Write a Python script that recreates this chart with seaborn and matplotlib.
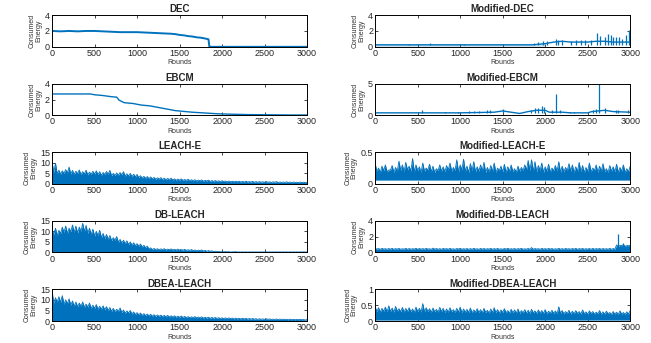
import matplotlib
matplotlib.use("Agg")
import matplotlib.pyplot as plt
import seaborn as sns

# ---- values (rounds 0..3000) ----
# smooth curves
dec_rounds = [0, 100, 200, 300, 400, 500, 600, 700, 800, 900, 1000, 1100, 1200, 1300,
              1400, 1450, 1500, 1550, 1600, 1650, 1700, 1750, 1800, 1840, 1850, 1860, 3000]
dec_energy = [2.0, 1.95, 2.0, 1.95, 2.0, 2.0, 1.95, 1.9, 1.85, 1.85, 1.85, 1.8, 1.75, 1.7,
              1.65, 1.6, 1.5, 1.45, 1.35, 1.3, 1.2, 1.15, 1.05, 0.95, 0.05, 0.0, 0.0]

ebcm_rounds = [0, 200, 450, 500, 600, 700, 760, 790, 850, 950, 1050, 1150, 1250, 1350, 1450,
               1550, 1650, 1800, 1950, 2100, 2300, 2500, 2800, 3000]
ebcm_energy = [2.7, 2.7, 2.7, 2.6, 2.5, 2.35, 2.3, 1.9, 1.6, 1.5, 1.3, 1.2, 1.0, 0.8, 0.6,
               0.5, 0.4, 0.3, 0.2, 0.15, 0.1, 0.08, 0.05, 0.05]

# baselines + spikes of the modified DEC / EBCM curves
moddec_rounds = [0, 500, 1000, 1500, 1850, 1900, 2000, 2100, 2200, 2300, 2400, 2500,
                 2600, 2700, 2800, 2900, 3000]
moddec_energy = [0.25, 0.25, 0.25, 0.25, 0.25, 0.3, 0.4, 0.6, 0.7, 0.6, 0.6, 0.6,
                 0.7, 0.7, 0.6, 0.6, 0.6]
moddec_band_rounds = [0, 2000]
moddec_band_top = [0.3, 0.3]
moddec_spike_rounds = [400, 640, 1040, 1870, 1920, 1980, 2020, 2130, 2150, 2200, 2300, 2360,
                       2420, 2470, 2540, 2610, 2640, 2700, 2740, 2770, 2800, 2830, 2870,
                       2900, 2950, 2990]
moddec_spike_energy = [0.4, 0.5, 0.4, 0.5, 0.6, 0.7, 0.7, 1.0, 0.9, 0.9, 0.7, 0.9,
                       0.8, 0.8, 0.8, 1.7, 1.4, 1.3, 1.6, 1.5, 1.2, 1.3, 1.2,
                       1.0, 1.5, 2.1]

modebcm_rounds = [0, 500, 1000, 1400, 1500, 1600, 1700, 1800, 1900, 2000, 2050, 2200, 2300,
                  2500, 2550, 2700, 2800, 3000]
modebcm_energy = [0.4, 0.4, 0.4, 0.5, 0.7, 0.5, 0.3, 0.6, 0.8, 0.8, 0.5, 0.5, 0.4,
                  0.4, 0.6, 0.8, 0.6, 0.5]
modebcm_spike_rounds = [550, 820, 970, 1100, 1160, 1220, 1320, 1350, 1500, 1830, 1880, 1920,
                        1960, 1990, 2080, 2130, 2170, 2290, 2340, 2560, 2600, 2630, 2700,
                        2830, 2860, 2980]
modebcm_spike_energy = [0.8, 0.6, 0.6, 0.7, 0.7, 0.7, 0.8, 0.8, 1.0, 0.9, 1.1, 1.2,
                        1.4, 1.3, 0.9, 3.3, 0.9, 0.6, 0.6, 0.8, 1.0, 5.0, 1.1,
                        0.8, 0.8, 0.8]

# noisy curves: spike tops every 40 rounds (0..3000),
# top of the solid band in between (20..2980), bottom of the band
leache_peaks = [10.2, 9.8, 6.5, 6.2, 6.8, 8.0, 6.4, 6.0, 6.6, 5.8,
                6.5, 5.6, 6.0, 6.2, 5.8, 5.4, 5.9, 6.4, 5.0, 5.2,
                5.4, 5.8, 4.8, 5.0, 4.6, 4.5, 3.9, 3.6, 3.5, 3.3,
                3.1, 2.9, 3.0, 2.7, 2.6, 2.7, 2.4, 2.3, 2.4, 2.1,
                2.2, 2.0, 2.0, 1.8, 1.9, 1.7, 1.8, 1.6, 1.6, 1.5,
                1.5, 1.4, 1.4, 1.3, 1.3, 1.3, 1.2, 1.3, 1.1, 1.2,
                1.1, 1.1, 1.0, 1.1, 1.0, 1.0, 1.1, 0.9, 0.9, 1.0,
                0.9, 0.9, 0.8, 0.9, 0.8, 0.8]
leache_band = [5.5, 4.8, 4.6, 5.0, 5.2, 4.7, 4.5, 4.9, 4.4, 4.8,
               4.3, 4.6, 4.7, 4.4, 4.1, 4.5, 4.6, 3.9, 4.0, 4.1,
               4.3, 3.7, 3.8, 3.5, 3.4, 3.0, 2.8, 2.7, 2.5, 2.4,
               2.2, 2.3, 2.1, 2.0, 2.1, 1.9, 1.8, 1.8, 1.7, 1.7,
               1.6, 1.5, 1.4, 1.5, 1.3, 1.4, 1.2, 1.2, 1.2, 1.1,
               1.1, 1.0, 1.0, 1.0, 1.0, 0.9, 0.9, 0.9, 0.9, 0.8,
               0.8, 0.8, 0.8, 0.8, 0.7, 0.8, 0.7, 0.7, 0.7, 0.7,
               0.6, 0.7, 0.6, 0.6, 0.6]
leache_floor = 0.0

modleache_peaks = [0.32, 0.25, 0.28, 0.30, 0.22, 0.29, 0.26, 0.36, 0.30, 0.34,
                   0.28, 0.40, 0.30, 0.27, 0.33, 0.25, 0.31, 0.28, 0.24, 0.30,
                   0.27, 0.29, 0.33, 0.26, 0.38, 0.30, 0.39, 0.28, 0.32, 0.35,
                   0.27, 0.30, 0.34, 0.26, 0.29, 0.33, 0.25, 0.28, 0.31, 0.27,
                   0.30, 0.24, 0.28, 0.26, 0.30, 0.37, 0.38, 0.35, 0.29, 0.33,
                   0.27, 0.31, 0.25, 0.29, 0.35, 0.28, 0.26, 0.32, 0.30, 0.27,
                   0.34, 0.29, 0.26, 0.33, 0.25, 0.30, 0.28, 0.32, 0.24, 0.29,
                   0.27, 0.31, 0.26, 0.30, 0.24, 0.28]
modleache_band = [0.20, 0.18, 0.21, 0.19, 0.22, 0.18, 0.20, 0.21, 0.19, 0.22,
                  0.20, 0.19, 0.21, 0.18, 0.20, 0.22, 0.19, 0.18, 0.21, 0.20,
                  0.19, 0.22, 0.20, 0.21, 0.19, 0.22, 0.20, 0.18, 0.21, 0.19,
                  0.20, 0.21, 0.18, 0.19, 0.20, 0.18, 0.21, 0.19, 0.18, 0.20,
                  0.19, 0.18, 0.20, 0.21, 0.22, 0.21, 0.20, 0.19, 0.21, 0.18,
                  0.20, 0.19, 0.21, 0.20, 0.18, 0.19, 0.21, 0.20, 0.18, 0.20,
                  0.19, 0.18, 0.20, 0.19, 0.21, 0.18, 0.20, 0.19, 0.18, 0.20,
                  0.19, 0.18, 0.20, 0.18, 0.19]
modleache_floor = 0.06

dbleach_peaks = [11.0, 11.5, 10.5, 12.0, 12.5, 11.5, 13.0, 12.5, 12.0, 13.8,
                 12.8, 11.5, 11.0, 10.0, 10.5, 9.0, 8.5, 8.0, 7.0, 7.5,
                 6.2, 5.8, 5.5, 5.0, 4.6, 4.2, 4.0, 3.4, 3.0, 2.2,
                 1.9, 1.8, 1.7, 1.8, 1.6, 1.7, 1.5, 1.6, 1.4, 1.5,
                 1.3, 1.4, 1.2, 1.1, 1.2, 1.0, 0.9, 0.8, 0.6, 0.5,
                 0.4, 0.4, 0.4, 0.3, 0.4, 0.3, 0.3, 0.3, 0.3, 0.3,
                 0.3, 0.3, 0.3, 0.3, 0.3, 0.3, 0.3, 0.3, 0.3, 0.3,
                 0.3, 0.3, 0.3, 0.3, 0.3, 0.3]
dbleach_band = [8.5, 8.0, 9.0, 9.5, 9.0, 9.8, 9.5, 9.2, 10.0, 10.0,
                9.0, 8.5, 7.8, 8.0, 7.0, 6.6, 6.2, 5.6, 5.8, 4.8,
                4.5, 4.2, 3.8, 3.5, 3.2, 3.0, 2.6, 2.3, 1.7, 1.4,
                1.4, 1.3, 1.4, 1.2, 1.3, 1.2, 1.2, 1.1, 1.1, 1.0,
                1.0, 0.9, 0.8, 0.9, 0.7, 0.6, 0.6, 0.4, 0.35, 0.3,
                0.3, 0.3, 0.2, 0.3, 0.2, 0.2, 0.2, 0.2, 0.2, 0.2,
                0.2, 0.2, 0.2, 0.2, 0.2, 0.2, 0.2, 0.2, 0.2, 0.2,
                0.2, 0.2, 0.2, 0.2, 0.2]
dbleach_floor = 0.0

moddbleach_peaks = [0.55, 0.50, 0.52, 0.48, 0.50, 0.53, 0.49, 0.51, 0.47, 0.52,
                    0.50, 0.48, 0.53, 0.50, 0.49, 0.52, 0.47, 0.55, 0.50, 0.48,
                    0.51, 0.49, 0.52, 0.47, 0.50, 0.53, 0.48, 0.50, 0.49, 0.52,
                    0.47, 0.51, 0.50, 0.48, 0.52, 0.49, 0.51, 0.47, 0.50, 0.53,
                    0.48, 0.50, 0.49, 0.52, 0.47, 0.51, 0.62, 0.50, 0.48, 0.52,
                    0.49, 0.51, 0.50, 0.47, 0.52, 0.49, 0.51, 0.48, 0.50, 0.52,
                    0.49, 0.51, 0.48, 0.50, 0.52, 0.49, 0.51, 0.50, 0.48, 0.52,
                    0.50, 0.95, 0.90, 1.00, 0.85, 0.90]
moddbleach_band = [0.42, 0.40, 0.43, 0.41, 0.42, 0.40, 0.43, 0.41, 0.42, 0.40,
                   0.41, 0.43, 0.40, 0.42, 0.41, 0.43, 0.40, 0.42, 0.41, 0.40,
                   0.43, 0.41, 0.42, 0.40, 0.43, 0.41, 0.42, 0.40, 0.41, 0.43,
                   0.40, 0.42, 0.41, 0.43, 0.40, 0.42, 0.41, 0.40, 0.43, 0.41,
                   0.42, 0.40, 0.43, 0.41, 0.42, 0.40, 0.41, 0.43, 0.40, 0.42,
                   0.41, 0.43, 0.40, 0.42, 0.41, 0.40, 0.43, 0.41, 0.42, 0.40,
                   0.43, 0.41, 0.42, 0.40, 0.41, 0.43, 0.40, 0.42, 0.41, 0.40,
                   0.42, 0.75, 0.85, 0.80, 0.85]
moddbleach_floor = 0.03
moddbleach_spike_rounds = [2860, 2920, 2960]
moddbleach_spike_energy = [2.3, 1.2, 1.0]

dbealeach_peaks = [14.0, 11.0, 11.5, 12.0, 10.0, 10.5, 9.5, 9.0, 8.5, 9.0,
                   8.0, 8.5, 7.5, 7.8, 7.0, 7.2, 6.8, 6.4, 6.0, 5.6,
                   6.2, 5.2, 4.8, 5.0, 4.3, 4.0, 3.8, 3.5, 3.3, 3.2,
                   3.0, 2.9, 2.8, 2.7, 2.7, 2.5, 2.5, 2.3, 2.4, 2.2,
                   2.1, 2.0, 2.1, 1.9, 2.0, 1.8, 1.8, 1.7, 1.7, 1.6,
                   1.5, 1.5, 1.5, 1.4, 1.4, 1.3, 1.3, 1.3, 1.2, 1.2,
                   1.1, 1.1, 1.0, 1.1, 1.0, 0.9, 1.0, 0.9, 0.9, 0.8,
                   0.9, 0.8, 0.8, 0.8, 0.7, 0.7]
dbealeach_band = [8.5, 9.0, 8.8, 8.0, 8.2, 7.5, 7.0, 6.8, 7.0, 6.4,
                  6.6, 6.0, 6.0, 5.6, 5.6, 5.3, 5.0, 4.6, 4.4, 4.6,
                  4.0, 3.7, 3.8, 3.3, 3.1, 2.9, 2.7, 2.6, 2.5, 2.3,
                  2.2, 2.2, 2.1, 2.0, 1.9, 1.9, 1.8, 1.8, 1.7, 1.6,
                  1.6, 1.6, 1.5, 1.5, 1.4, 1.4, 1.3, 1.3, 1.2, 1.2,
                  1.1, 1.1, 1.1, 1.0, 1.0, 1.0, 1.0, 0.9, 0.9, 0.9,
                  0.8, 0.8, 0.8, 0.8, 0.7, 0.7, 0.7, 0.7, 0.7, 0.6,
                  0.6, 0.6, 0.6, 0.6, 0.5]
dbealeach_floor = 0.0

moddbea_peaks = [0.45, 0.42, 0.40, 0.44, 0.48, 0.41, 0.46, 0.39, 0.43, 0.40,
                 0.42, 0.38, 0.44, 0.40, 0.55, 0.42, 0.39, 0.41, 0.37, 0.43,
                 0.40, 0.38, 0.42, 0.36, 0.40, 0.44, 0.38, 0.37, 0.41, 0.35,
                 0.39, 0.36, 0.40, 0.34, 0.38, 0.42, 0.36, 0.35, 0.39, 0.33,
                 0.37, 0.35, 0.38, 0.33, 0.36, 0.34, 0.37, 0.32, 0.35, 0.33,
                 0.36, 0.31, 0.34, 0.32, 0.45, 0.33, 0.30, 0.34, 0.31, 0.33,
                 0.30, 0.35, 0.29, 0.32, 0.30, 0.28, 0.33, 0.29, 0.31, 0.27,
                 0.30, 0.28, 0.32, 0.27, 0.29, 0.33]
moddbea_band = [0.30, 0.28, 0.31, 0.29, 0.30, 0.28, 0.31, 0.29, 0.28, 0.30,
                0.29, 0.27, 0.30, 0.28, 0.29, 0.30, 0.27, 0.29, 0.28, 0.30,
                0.27, 0.28, 0.29, 0.27, 0.28, 0.26, 0.28, 0.27, 0.26, 0.28,
                0.27, 0.26, 0.27, 0.25, 0.27, 0.26, 0.25, 0.27, 0.26, 0.25,
                0.26, 0.25, 0.24, 0.26, 0.25, 0.24, 0.26, 0.24, 0.25, 0.24,
                0.23, 0.25, 0.24, 0.23, 0.24, 0.23, 0.24, 0.22, 0.23, 0.24,
                0.22, 0.23, 0.22, 0.24, 0.22, 0.23, 0.21, 0.22, 0.23, 0.21,
                0.22, 0.21, 0.22, 0.21, 0.22]
moddbea_floor = 0.03

titles = ["DEC", "Modified-DEC", "EBCM", "Modified-EBCM", "LEACH-E", "Modified-LEACH-E",
          "DB-LEACH", "Modified-DB-LEACH", "DBEA-LEACH", "Modified-DBEA-LEACH"]
y_limits = [4, 4, 4, 5, 15, 0.5, 15, 4, 15, 1]
y_ticks = [[0, 2, 4], [0, 2, 4], [0, 2, 4], [0, 5], [0, 5, 10, 15], [0, 0.5],
           [0, 5, 10, 15], [0, 2, 4], [0, 5, 10, 15], [0, 0.5, 1]]
x_ticks = [0, 500, 1000, 1500, 2000, 2500, 3000]

BLUE = "#0072BD"


def zigzag(peaks, band):
    # alternate spike top / band top: spikes at 0,40,..  band at 20,60,..
    xs, ys = [], []
    for i, p in enumerate(peaks):
        xs.append(i * 40)
        ys.append(p)
        if i < len(band):
            xs.append(i * 40 + 20)
            ys.append(band[i])
    return xs, ys


sns.set_theme(style="white")
plt.rcParams["font.family"] = ["Liberation Sans", "DejaVu Sans"]

fig, axes = plt.subplots(5, 2, figsize=(6.51, 3.43), dpi=100)
fig.subplots_adjust(left=0.08, right=0.968, top=0.956, bottom=0.064, wspace=0.267, hspace=1.16)
axes = axes.flatten()

# smooth ones
sns.lineplot(x=dec_rounds, y=dec_energy, ax=axes[0], color=BLUE, linewidth=1.4, estimator=None)
sns.lineplot(x=ebcm_rounds, y=ebcm_energy, ax=axes[2], color=BLUE, linewidth=1.0, estimator=None)

# modified DEC
axes[1].fill_between(moddec_band_rounds, 0, moddec_band_top, color=BLUE, alpha=0.2, linewidth=0)
sns.lineplot(x=moddec_rounds, y=moddec_energy, ax=axes[1], color=BLUE, linewidth=1.0, estimator=None)
axes[1].vlines(moddec_spike_rounds, 0.2, moddec_spike_energy, color=BLUE, linewidth=0.9)

# modified EBCM
sns.lineplot(x=modebcm_rounds, y=modebcm_energy, ax=axes[3], color=BLUE, linewidth=1.0, estimator=None)
axes[3].vlines(modebcm_spike_rounds, 0.3, modebcm_spike_energy, color=BLUE, linewidth=0.9)

# noisy ones
noisy = {4: (leache_peaks, leache_band, leache_floor),
         5: (modleache_peaks, modleache_band, modleache_floor),
         6: (dbleach_peaks, dbleach_band, dbleach_floor),
         7: (moddbleach_peaks, moddbleach_band, moddbleach_floor),
         8: (dbealeach_peaks, dbealeach_band, dbealeach_floor),
         9: (moddbea_peaks, moddbea_band, moddbea_floor)}
for k, (pk, bd, fl) in noisy.items():
    xs, ys = zigzag(pk, bd)
    axes[k].fill_between(xs, fl, ys, color=BLUE, linewidth=0)
    sns.lineplot(x=xs, y=ys, ax=axes[k], color=BLUE, linewidth=0.6, estimator=None)
axes[7].vlines(moddbleach_spike_rounds, 0.5, moddbleach_spike_energy, color=BLUE, linewidth=0.9)

for i, ax in enumerate(axes):
    ax.set_xlim(0, 3000)
    ax.set_ylim(0, y_limits[i])
    ax.set_xticks(x_ticks)
    ax.set_yticks(y_ticks[i])
    ax.set_yticklabels([("%g" % t) for t in y_ticks[i]])
    ax.set_title(titles[i], fontsize=7, fontweight="bold", pad=2)
    ax.set_xlabel("Rounds", fontsize=5, labelpad=1, color="#333333")
    ax.set_ylabel("Consumed\nEnergy", fontsize=5, labelpad=2, color="#333333", linespacing=0.9)
    ax.tick_params(direction="in", length=2, width=0.6, labelsize=6.5, pad=1.5,
                   top=True, right=True, bottom=True, left=True)
    for s in ax.spines.values():
        s.set_color("black")
        s.set_linewidth(0.7)

fig.savefig("out.png", dpi=100)
